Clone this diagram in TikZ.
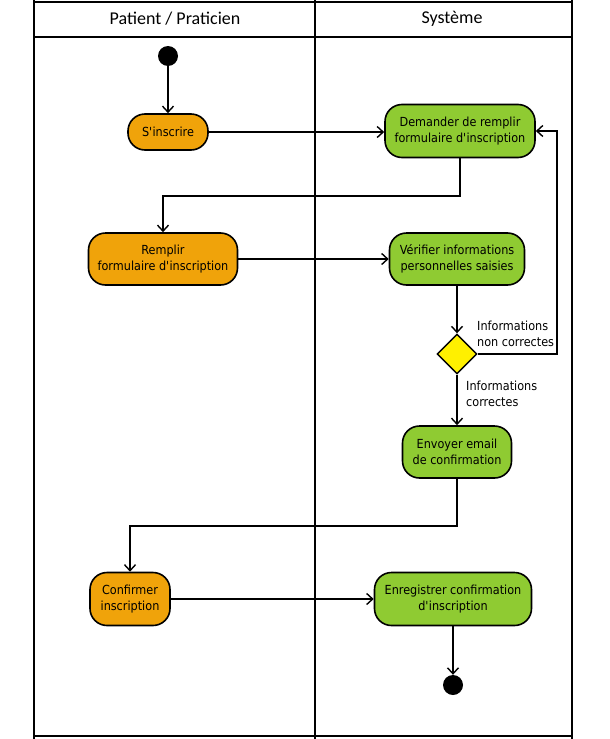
\documentclass[tikz,border=0pt]{standalone}
\usepackage{fontspec}
\setmainfont{DejaVu Sans}[FakeStretch=0.9,Ligatures=ResetAll]
\newfontfamily\headfont{Carlito}
\usetikzlibrary{arrows.meta,shapes.geometric}
\definecolor{actorange}{HTML}{F0A30A}
\definecolor{actgreen}{HTML}{8FCB32}
\definecolor{decyellow}{HTML}{FFF000}
\newcommand{\apo}{\textquotesingle}
\tikzset{
  act/.style={draw=black, line width=1.6pt, rounded corners=17pt, align=center,
    font=\fontsize{12.5}{16}\selectfont, inner sep=0pt, minimum height=52pt},
  actL/.style={act, fill=actorange},
  actR/.style={act, fill=actgreen},
  dot/.style={circle, fill=black, minimum size=20pt, inner sep=0pt},
  dec/.style={diamond, draw=black, line width=1.4pt, fill=decyellow, minimum width=40pt, minimum height=40pt, inner sep=0pt},
  flow/.style={line width=1.4pt, -{Straight Barb[length=6pt,width=11pt,line width=1.4pt]}},
  lane/.style={line width=1.2pt},
  lbl/.style={font=\fontsize{12.5}{16}\selectfont, align=left, inner sep=0pt, anchor=west},
  hdr/.style={font=\headfont\fontsize{18}{20}\selectfont}
}
\begin{document}
\begin{tikzpicture}[x=1pt,y=-1pt]
\useasboundingbox (0,0) rectangle (610,739);
% swimlanes
\draw[lane] (34,2) -- (572,2);
\draw[lane] (34,37) -- (572,37);
\draw[lane] (34,0) -- (34,739);
\draw[lane] (572,0) -- (572,739);
\draw[lane] (315,0) -- (315,739);
\draw[lane] (34,736) -- (572,736);
\node[hdr] (h1) at (175,19) {Patient / Praticien};
\node[hdr] (h2) at (452,19) {Système};
% nodes
\node[dot] (start) at (168,56) {};
\node[actL, minimum width=80pt, minimum height=36pt] (ins) at (168,132) {S\apo inscrire};
\node[actR, minimum width=150pt, minimum height=53pt] (dem) at (460,131) {Demander de remplir\\formulaire d\apo inscription};
\node[actL, minimum width=149pt] (rem) at (163,259) {Remplir\\formulaire d\apo inscription};
\node[actR, minimum width=135pt] (ver) at (457,259) {Vérifier informations\\personnelles saisies};
\node[dec] (d) at (457,354) {};
\node[actR, minimum width=109pt] (env) at (457,452) {Envoyer email\\de confirmation};
\node[actL, minimum width=80pt, minimum height=53pt] (conf) at (130,599) {Confirmer\\inscription};
\node[actR, minimum width=157pt, minimum height=53pt] (enr) at (453,599) {Enregistrer confirmation\\d\apo inscription};
\node[dot] (end) at (453,685) {};
% labels
\node[lbl] (l1) at (477,334) {Informations\\non correctes};
\node[lbl] (l2) at (466,394) {Informations\\correctes};
% coordinates
\coordinate (c2) at (163,196);
\coordinate (c3) at (557,354);
\coordinate (c4) at (557,131);
\coordinate (c6) at (130,526);
% flows
\draw[flow] (start) -- (ins);
\draw[flow] (ins) -- (dem.west |- ins);
\draw[flow] (dem.south) |- (c2) -- (rem.north);
\draw[flow] (rem) -- (ver.west |- rem);
\draw[flow] (ver) -- (d);
\draw[flow] (d.east) -- (c3) -- (c4) -- (dem.east);
\draw[flow] (d) -- (env);
\draw[flow] (env.south) |- (c6) -- (conf.north);
\draw[flow] (conf) -- (enr.west |- conf);
\draw[flow] (enr) -- (end);
\end{tikzpicture}
\end{document}
